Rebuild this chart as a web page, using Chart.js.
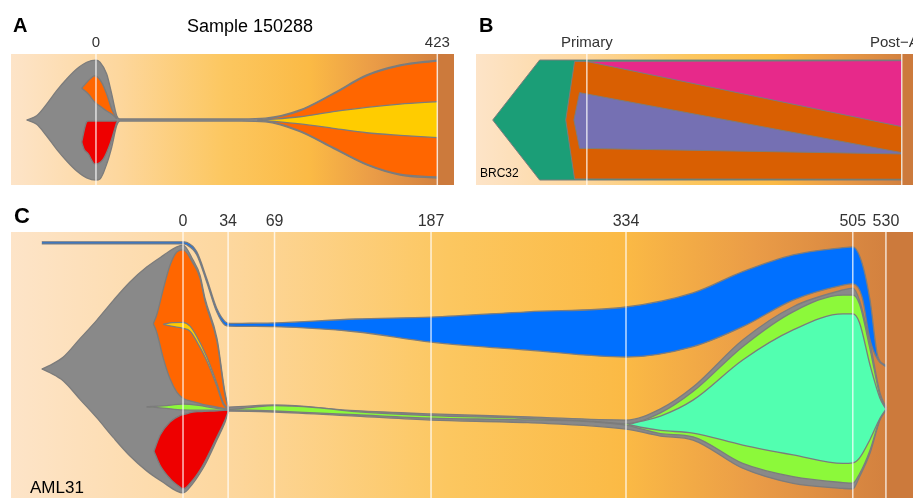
<!DOCTYPE html>
<html>
<head>
<meta charset="utf-8">
<script src="https://cdn.jsdelivr.net/npm/chart.js@4.4.1/dist/chart.umd.min.js"></script>
<style>
  html, body { margin: 0; padding: 0; overflow: hidden; background: #fff; }
  body { width: 913px; height: 498px; position: relative; font-family: "Liberation Sans", Arial, sans-serif; }
  canvas { position: absolute; }
  .t { position: absolute; color: #000; white-space: nowrap; line-height: 1; }
</style>
</head>
<body>
<canvas id="fishA" width="460" height="190" style="left:0;top:0"></canvas>
<canvas id="fishB" width="470" height="190" style="left:466px;top:0"></canvas>
<canvas id="fishC" width="913" height="298" style="left:0;top:200px"></canvas>

<div class="t" style="left:13px;top:15px;font-size:20px;font-weight:bold">A</div>
<div class="t" style="left:150px;top:17px;width:200px;text-align:center;font-size:18px">Sample 150288</div>
<div class="t" style="left:479px;top:15px;font-size:20px;font-weight:bold">B</div>
<div class="t" style="left:480px;top:167px;font-size:12px">BRC32</div>
<div class="t" style="left:14px;top:205px;font-size:22px;font-weight:bold">C</div>
<div class="t" style="left:30px;top:479px;font-size:17px">AML31</div>

<script>
// ---- panel A : Sample 150288 ----
const aTimes = [0, 423];
const aLabels = ['0', '423'];
const aGrayX = [-85.9, -73.5, -61.1, -48.7, -36.3, -23.9, -11.5, 0, 5, 13.3, 19.5, 25.7, 29.7, 60, 120, 180, 210, 252.8, 294, 335.5, 376.8, 423];
const aGrayTop = [49.6, 52.9, 61.8, 72.0, 80.9, 88.5, 93.7, 95.4, 93.7, 84.7, 69.5, 52.9, 50.4, 50.4, 50.4, 50.4, 51.0, 57.3, 70.0, 84.0, 91.6, 95.4];
const aGrayBot = [49.6, 46.3, 37.4, 27.2, 18.3, 10.7, 5.5, 3.8, 4.6, 16.0, 28.8, 45.3, 48.8, 48.8, 48.8, 48.8, 48.2, 40.7, 28.0, 15.3, 7.6, 5.3];
const aOrangeLX = [-17.7, -9.5, -1.2, 7, 13.3, 19.5, 25.7];
const aOrangeLTop = [73.8, 79.6, 83.4, 78.4, 69.5, 58.0, 50.6];
const aOrangeLBot = [73.8, 69.5, 63.1, 59.3, 56.5, 54.2, 50.6];
const aRedX = [-17.7, -14.5, -11.5, -9.5, -1.2, 9, 17.4, 25.7];
const aRedTop = [32.6, 42.0, 48.3, 48.8, 48.8, 48.8, 48.8, 48.9];
const aRedBot = [32.6, 27.0, 25.0, 23.7, 16.0, 19.8, 31.3, 48.0];
const aOrangeRX = [200, 215, 252.8, 294, 335.5, 376.8, 423];
const aOrangeRTop = [49.6, 50.6, 56.6, 69.3, 83.3, 90.9, 94.6];
const aOrangeRBot = [49.6, 48.6, 41.4, 28.7, 16.0, 8.3, 6.1];
const aYellowX = [205, 252.8, 294, 335.5, 376.8, 423];
const aYellowTop = [49.6, 52.1, 56.0, 59.3, 61.8, 63.6];
const aYellowBot = [49.6, 46.6, 43.3, 39.9, 37.9, 36.1];

// ---- panel B : BRC32 ----
const bTimes = [0, 1];
const bLabels = ['Primary', 'Post\u2212AI\u2002\u2009'];
const bTealX = [-0.299, -0.150, 1.0];
const bTealTop = [49.6, 95.4, 95.4];
const bTealBot = [49.6, 3.8, 3.8];
const bOrangeX = [-0.067, -0.039, 1.0];
const bOrangeTop = [49.6, 94.3, 94.6];
const bOrangeBot = [49.6, 4.6, 4.4];
const bPinkX = [0, 1.0];
const bPinkTop = [94.3, 94.9];
const bPinkBot = [94.3, 44.5];
const bPurpleX = [-0.041, -0.023, 1.0];
const bPurpleTop = [49.6, 70.5, 24.7];
const bPurpleBot = [49.6, 28.0, 23.7];

// ---- panel C : AML31 ----
const cTimes = [0, 34, 69, 187, 334, 505, 530];
const cLabels = ['0', '34', '69', '187', '334', '505', '530'];
const cGrayX = [-106.5, -100.3, -90.2, -77.7, -65.1, -52.5, -40, -27.4, -14.8, -4.7, 0, 7.5, 12.8, 16.6, 25.6, 31.7, 34.7, 69, 130, 187, 260, 334, 360, 384.5, 422, 460, 497.6, 505, 510, 518, 525.5, 530.5];
const cGrayTop = [48.5, 49.9, 53.0, 59.9, 66.8, 74.3, 81.2, 86.8, 91.2, 94.4, 95.1, 89.5, 83.8, 75.0, 60.0, 39.5, 34.2, 35.0, 32.8, 31.6, 30.5, 29.3, 33.5, 41.7, 59.4, 71.9, 78.2, 78.9, 74.4, 58.3, 39.5, 33.8];
const cGrayBot = [48.5, 47.1, 44.0, 37.1, 30.2, 22.7, 15.8, 10.2, 5.8, 2.6, 1.9, 5.5, 9.3, 12.5, 21.9, 28.5, 32.7, 32.3, 30.8, 29.3, 28.3, 25.9, 23.3, 21.8, 11.2, 5.5, 3.6, 3.4, 7.9, 16.9, 29.3, 33.3];
const cBlueX = [-106.5, -60, -10, 0, 2.8, 10.3, 17.8, 25.4, 31.7, 35.5, 50, 69, 130, 187, 260, 334, 384.5, 422, 460, 497.6, 505, 512, 518, 524, 530];
const cBlueTop = [96.3, 96.3, 96.3, 96.3, 96.1, 92.6, 82.6, 71.3, 66.3, 65.6, 65.7, 65.8, 67.3, 68.0, 70.0, 71.8, 77.1, 85.1, 91.4, 94.1, 94.4, 88.3, 74.4, 53.0, 49.9];
const cBlueBot = [95.5, 95.5, 95.5, 95.5, 95.2, 91.5, 81.3, 70.0, 65.0, 64.6, 64.5, 64.4, 62.5, 58.6, 55.6, 53.0, 56.9, 64.4, 74.4, 80.0, 80.5, 75.6, 59.4, 51.9, 49.3];
const cOrangeX = [-22.4, -19.9, -14.8, -9.8, -4.7, 0, 7.5, 12.8, 16.6, 25.6, 31.7, 34.5];
const cOrangeTop = [65.5, 68.7, 78.7, 87.5, 92.5, 93.3, 88.3, 82.7, 73.9, 58.9, 38.5, 33.4];
const cOrangeBot = [65.5, 62.4, 52.4, 44.8, 39.8, 37.5, 36.2, 35.5, 35.0, 34.2, 33.6, 33.3];
const cYellowX = [-14.8, -8, 0, 5.3, 10.3, 17.9, 25.4, 30.4, 34.5];
const cYellowTop = [65.3, 65.9, 66.0, 64.6, 60.8, 53.1, 43.2, 35.8, 33.4];
const cYellowBot = [65.3, 64.5, 63.8, 62.7, 58.9, 51.6, 42.2, 35.2, 33.4];
const cLimeX = [-27.4, -15, 0, 12, 24, 34.7, 50, 69, 100, 130, 187, 250, 310, 334, 360, 384.5, 422, 460, 497.6, 505, 510, 518, 525.5, 530];
const cLimeTop = [34.3, 34.6, 35.3, 34.8, 33.8, 33.3, 34.0, 34.7, 34.0, 32.5, 31.0, 30.1, 28.8, 27.9, 32.0, 40.0, 56.9, 70.0, 76.3, 76.3, 73.0, 56.0, 38.5, 33.5];
const cLimeBot = [34.3, 33.8, 33.1, 33.0, 33.0, 33.1, 33.0, 32.7, 32.0, 31.3, 30.0, 29.5, 28.6, 27.4, 24.2, 23.0, 13.0, 8.0, 5.8, 5.6, 9.0, 18.0, 29.8, 33.3];
const cCyanX = [336, 345, 360, 384.5, 422, 460, 497.6, 505, 510, 518, 525.5, 530];
const cCyanTop = [27.6, 28.8, 30.8, 36.8, 51.9, 63.2, 69.2, 69.2, 66.0, 50.0, 37.5, 33.4];
const cCyanBot = [27.6, 26.6, 25.4, 24.4, 19.9, 16.2, 13.0, 13.2, 15.0, 22.0, 30.0, 33.4];
const cRedX = [-21.9, -17.3, -9.8, -2.3, 0, 7.5, 12.8, 16.6, 25.6, 31.7, 34.5];
const cRedTop = [17.6, 23.6, 28.6, 31.0, 31.3, 32.3, 32.5, 32.6, 32.8, 33.0, 33.1];
const cRedBot = [17.6, 12.3, 7.3, 4.1, 3.4, 6.8, 10.5, 13.8, 23.0, 29.3, 33.0];

// background ramp (bisque -> goldenrod -> dark orange)
const bgStops = [[0, '#FDE4C8'], [0.25, '#FDD79E'], [0.5, '#FCC760'], [0.7, '#FBBA45'], [0.85, '#EA9C47'], [1, '#D3813F']];
const bandColor = '#CC7A3C';
const edge = '#7c7c7c';

// one clone = upper edge filled down to lower edge
function clone(xs, top, bot, color, order, smooth, width) {
  const pts = arr => xs.map((x, i) => ({ x: x, y: arr[i] }));
  const common = {
    backgroundColor: color,
    borderColor: edge,
    borderWidth: width || 1.3,
    pointRadius: 0,
    tension: 0,
    cubicInterpolationMode: smooth ? 'monotone' : 'default',
    order: order
  };
  return [
    Object.assign({}, common, { data: pts(top), fill: '+1' }),
    Object.assign({}, common, { data: pts(bot), fill: false, order: order - 0.5 })
  ];
}

const bgPlugin = {
  id: 'fishBg',
  beforeDraw(chart, args, opts) {
    const { ctx, chartArea: a } = chart;
    const last = chart.scales.x.getPixelForValue(opts.last);
    const g = ctx.createLinearGradient(a.left, 0, last, 0);
    bgStops.forEach(s => g.addColorStop(s[0], s[1]));
    ctx.save();
    ctx.fillStyle = g;
    ctx.fillRect(a.left, a.top, last - a.left, a.bottom - a.top);
    ctx.fillStyle = bandColor;
    ctx.fillRect(last, a.top, a.right - last, a.bottom - a.top);
    ctx.restore();
  }
};

const timeLines = {
  id: 'timeLines',
  afterDatasetsDraw(chart) {
    const { ctx, chartArea: a, scales: { x } } = chart;
    ctx.save();
    ctx.strokeStyle = 'rgba(255,255,255,0.75)';
    ctx.lineWidth = 1.5;
    x.ticks.forEach(t => {
      const px = x.getPixelForValue(t.value);
      ctx.beginPath();
      ctx.moveTo(px, a.top);
      ctx.lineTo(px, a.bottom);
      ctx.stroke();
    });
    ctx.restore();
  }
};

function fish(id, datasets, cfg) {
  return new Chart(document.getElementById(id), {
    type: 'line',
    data: { datasets: datasets },
    plugins: [bgPlugin, timeLines],
    options: {
      responsive: false,
      animation: false,
      events: [],
      layout: { padding: cfg.padding },
      plugins: {
        legend: { display: false },
        tooltip: { enabled: false },
        fishBg: { last: cfg.times[cfg.times.length - 1] },
        filler: { propagate: false }
      },
      scales: {
        x: {
          type: 'linear',
          position: 'top',
          min: cfg.min,
          max: cfg.max,
          afterBuildTicks: s => { s.ticks = cfg.times.map(v => ({ value: v })); },
          afterFit: s => { s.height = 24; },
          grid: { display: false, drawTicks: false },
          border: { display: false },
          ticks: {
            autoSkip: false,
            maxRotation: 0,
            padding: cfg.tickPad,
            color: '#333',
            font: { family: 'Liberation Sans', size: cfg.fontSize },
            callback: (v, i) => cfg.labels[i]
          }
        },
        y: { type: 'linear', display: false, min: 0, max: 100 }
      }
    }
  });
}

fish('fishA', [].concat(
  clone(aGrayX, aGrayTop, aGrayBot, '#898989', 10, true),
  clone(aOrangeLX, aOrangeLTop, aOrangeLBot, '#FF6600', 8, true),
  clone(aRedX, aRedTop, aRedBot, '#EE0000', 8, true),
  clone(aOrangeRX, aOrangeRTop, aOrangeRBot, '#FF6600', 8, true),
  clone(aYellowX, aYellowTop, aYellowBot, '#FFCC00', 6, true)
), { times: aTimes, labels: aLabels, min: -105.3, max: 443.7, padding: { left: 11, right: 6, top: 30, bottom: 5 }, fontSize: 15, tickPad: 2 });

fish('fishB', [].concat(
  clone(bTealX, bTealTop, bTealBot, '#1B9E77', 10, false, 1),
  clone(bOrangeX, bOrangeTop, bOrangeBot, '#D95F02', 8, false, 1),
  clone(bPinkX, bPinkTop, bPinkBot, '#E7298A', 6, false, 1),
  clone(bPurpleX, bPurpleTop, bPurpleBot, '#7570B3', 6, false, 1)
), { times: bTimes, labels: bLabels, min: -0.352, max: 1.0687, padding: { left: 10, right: 11, top: 30, bottom: 5 }, fontSize: 15, tickPad: 2 });

fish('fishC', [].concat(
  clone(cGrayX, cGrayTop, cGrayBot, '#898989', 10, true),
  clone(cBlueX, cBlueTop, cBlueBot, '#0070FF', 10, true),
  clone(cOrangeX, cOrangeTop, cOrangeBot, '#FF6600', 8, true),
  clone(cRedX, cRedTop, cRedBot, '#EE0000', 8, true),
  clone(cLimeX, cLimeTop, cLimeBot, '#8CF93A', 8, true),
  clone(cYellowX, cYellowTop, cYellowBot, '#FFCC00', 6, true),
  clone(cCyanX, cCyanTop, cCyanBot, '#52FFB0', 6, true)
), { times: cTimes, labels: cLabels, min: -129.7, max: 550.4, padding: { left: 11, right: 0, top: 8, bottom: 0 }, fontSize: 16, tickPad: 1 });
</script>
</body>
</html>
